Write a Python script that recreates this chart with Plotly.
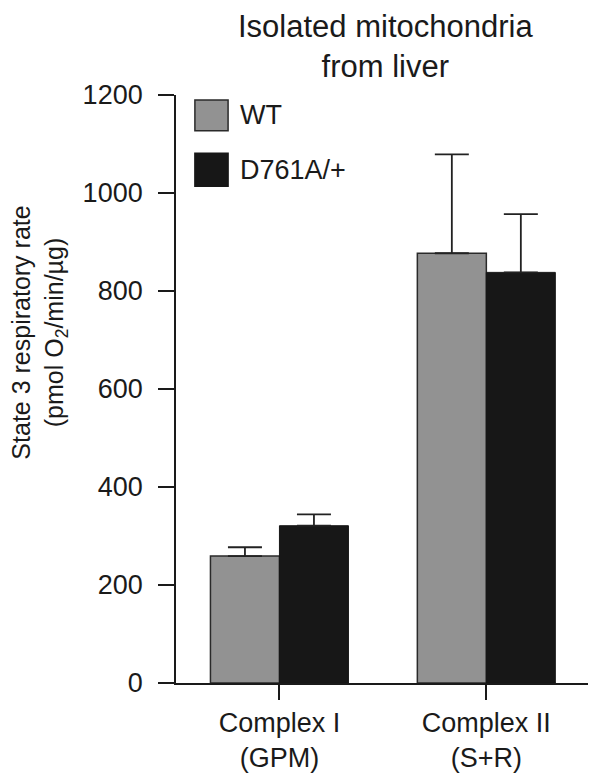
import plotly.graph_objects as go

categories = ["Complex I<br>(GPM)", "Complex II<br>(S+R)"]
wt_values = [259, 877]
wt_err = [18, 202]
mut_values = [321, 838]
mut_err = [23, 119]
series_names = ["WT", "D761A/+"]
y_ticks = [0, 200, 400, 600, 800, 1000, 1200]

FONT = "Liberation Sans, Arial, Helvetica, sans-serif"
TXT = "#1a1a1a"
GRAY = "#929292"
BLACK = "#171717"

fig = go.Figure()
fig.add_trace(go.Bar(
    x=categories, y=wt_values, name=series_names[0],
    marker=dict(color=GRAY, line=dict(color="#2a2a2a", width=1.5)),
    error_y=dict(type="data", array=wt_err, arrayminus=[0, 0], symmetric=False,
                 color="#222222", thickness=1.8, width=17),
    showlegend=False,
))
fig.add_trace(go.Bar(
    x=categories, y=mut_values, name=series_names[1],
    marker=dict(color=BLACK, line=dict(color=BLACK, width=1)),
    error_y=dict(type="data", array=mut_err, arrayminus=[0, 0], symmetric=False,
                 color="#222222", thickness=1.8, width=17),
    showlegend=False,
))

# legend drawn manually (large square swatches)
legend_items = [(series_names[0], GRAY, "#2a2a2a", 0.9915, 0.939),
                (series_names[1], BLACK, BLACK, 0.901, 0.845)]
for name, fill, edge, y1, y0 in legend_items:
    fig.add_shape(type="rect", xref="paper", yref="paper",
                  x0=0.045, x1=0.124, y0=y0, y1=y1,
                  fillcolor=fill, line=dict(color=edge, width=1.5))
    fig.add_annotation(xref="paper", yref="paper", x=0.148, y=(y0 + y1) / 2,
                       text=name, showarrow=False, xanchor="left", yanchor="middle",
                       font=dict(family=FONT, size=27, color=TXT))

# title
fig.add_annotation(xref="paper", yref="paper", x=0.498, y=1.0, yshift=87,
                   text="Isolated mitochondria<br>from liver", showarrow=False,
                   xanchor="center", yanchor="top", borderpad=0,
                   font=dict(family=FONT, size=31, color=TXT))

# y-axis title
fig.add_annotation(xref="paper", yref="paper", x=-0.325, y=0.595,
                   text="State 3 respiratory rate<br>(pmol O<sub>2</sub>/min/µg)",
                   showarrow=False, textangle=-90, xanchor="center", yanchor="middle",
                   borderpad=0,
                   font=dict(family=FONT, size=25, color=TXT))

fig.update_layout(
    width=588, height=766,
    margin=dict(l=168, r=0, t=87, b=91),
    paper_bgcolor="white", plot_bgcolor="white",
    barmode="group", bargap=0.333, bargroupgap=0,
    font=dict(family=FONT, color=TXT),
)
fig.update_xaxes(
    type="category", range=[-0.5, 1.53],
    showline=True, linecolor="#1a1a1a", linewidth=1.8,
    ticks="outside", ticklen=15, tickwidth=1.8, tickcolor="#1a1a1a",
    tickfont=dict(family=FONT, size=27, color=TXT),
    showgrid=False, zeroline=False,
)
fig.update_yaxes(
    range=[0, 1200], tickvals=y_ticks,
    showline=True, linecolor="#1a1a1a", linewidth=1.8,
    ticks="outside", ticklen=16, tickwidth=1.8, tickcolor="#1a1a1a",
    tickfont=dict(family=FONT, size=27, color=TXT),
    ticklabelstandoff=10,
    showgrid=False, zeroline=False,
)

fig.write_html("out.html")
